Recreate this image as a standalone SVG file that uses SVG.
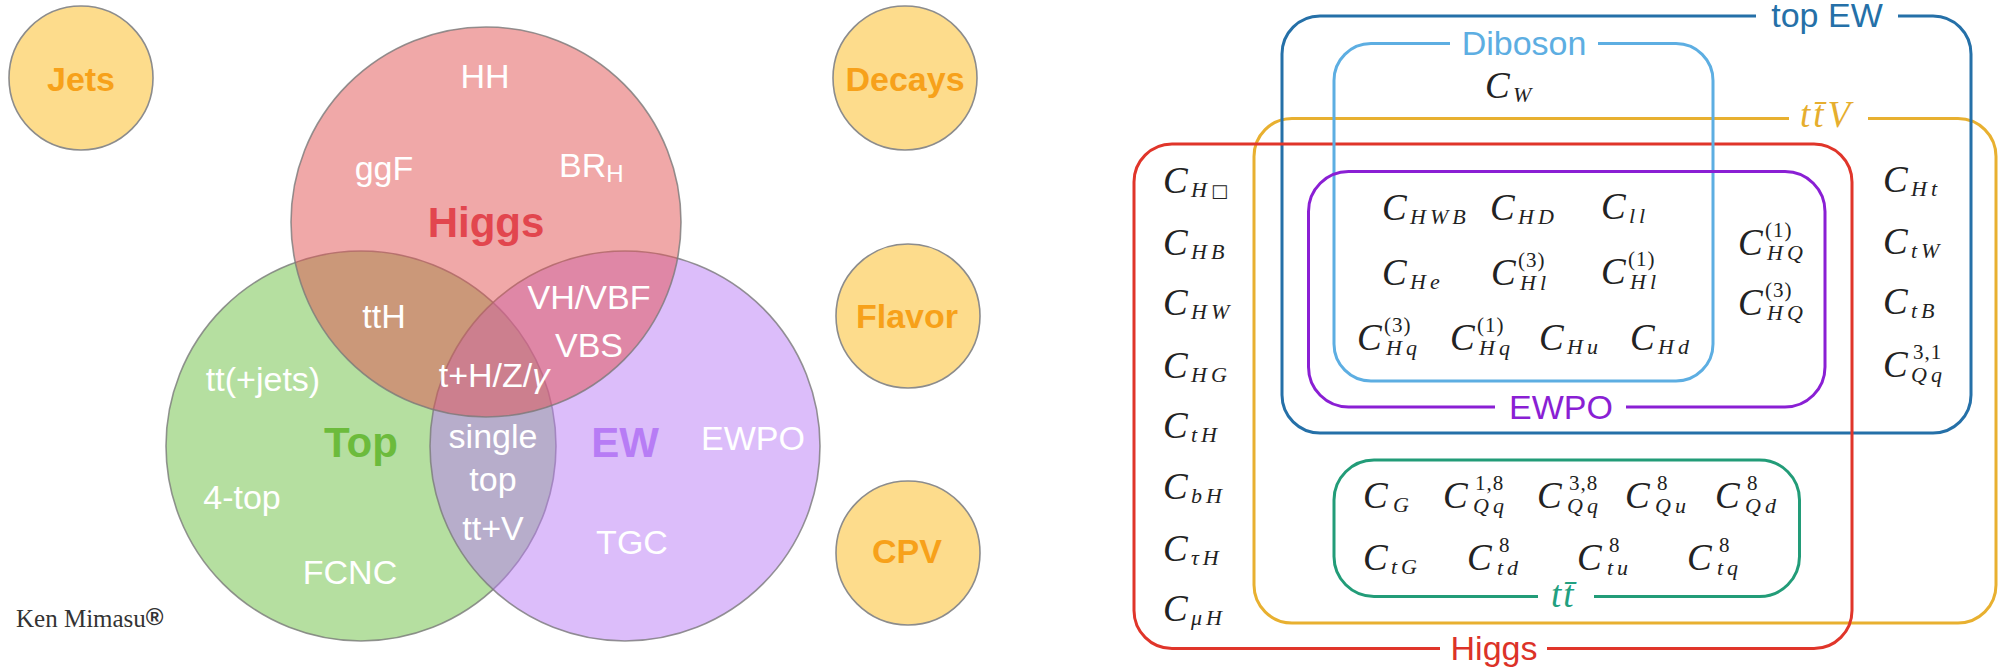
<svg xmlns="http://www.w3.org/2000/svg" width="2002" height="670" viewBox="0 0 2002 670">
<style>
.bg{fill:#ffffff}
.oc{fill:#FDDC8C;stroke:#8C8C8C;stroke-width:1.6}
.ol{font-family:"Liberation Sans",Arial,sans-serif;font-weight:bold;font-size:34px;fill:#F7A11A;text-anchor:middle}
.vc{stroke:#7A7A7A;stroke-width:1.6;stroke-opacity:0.8}
.wl{font-family:"Liberation Sans",Arial,sans-serif;font-size:34px;fill:#ffffff;text-anchor:middle}
.bl{font-family:"Liberation Sans",Arial,sans-serif;font-weight:bold;font-size:42px;text-anchor:middle}
.box{fill:none;stroke-width:3}
.bx{font-family:"Liberation Sans",Arial,sans-serif;font-size:34px;text-anchor:middle}
.c{font-family:"Liberation Serif","DejaVu Serif",serif;font-style:italic;font-size:37px;fill:#222222}
.s{font-size:22px;letter-spacing:4px}
.p{font-size:21px;font-style:normal;letter-spacing:1px}
.m{font-family:"Liberation Serif","DejaVu Serif",serif;font-style:italic;font-size:37px}
</style>
<rect class="bg" x="0" y="0" width="2002" height="670"/>

<!-- LEFT: Venn diagram -->
<g id="jets"><circle class="oc" cx="81" cy="78" r="72"/><text class="ol" x="81" y="91">Jets</text></g>
<g id="decays"><circle class="oc" cx="905" cy="78" r="72"/><text class="ol" x="905" y="91">Decays</text></g>
<g id="flavor"><circle class="oc" cx="908" cy="316" r="72"/><text class="ol" x="907" y="328">Flavor</text></g>
<g id="cpv"><circle class="oc" cx="908" cy="553" r="72"/><text class="ol" x="907" y="563">CPV</text></g>

<g id="top-circle"><circle class="vc" cx="361" cy="446" r="195" fill="#6BBF41" fill-opacity="0.5"/></g>
<g id="ew-circle"><circle class="vc" cx="625" cy="446" r="195" fill="#B97BF5" fill-opacity="0.5"/></g>
<g id="higgs-circle"><circle class="vc" cx="486" cy="222" r="195" fill="#E15151" fill-opacity="0.5"/></g>

<g id="venn-labels">
<text class="wl" x="485" y="88">HH</text>
<text class="wl" x="384" y="180">ggF</text>
<text class="wl" x="559" y="177" style="text-anchor:start">BR<tspan font-size="24" dy="5">H</tspan></text>
<text class="bl" x="486" y="237" fill="#E2464E" font-size="44">Higgs</text>
<text class="wl" x="384" y="328">ttH</text>
<text class="wl" x="589" y="309">VH/VBF</text>
<text class="wl" x="589" y="357">VBS</text>
<text class="wl" x="494" y="387" font-size="30">t+H/Z/<tspan font-style="italic">γ</tspan></text>
<text class="wl" x="263" y="391">tt(+jets)</text>
<text class="bl" x="361" y="457" fill="#6CBB3C">Top</text>
<text class="wl" x="493" y="448">single</text>
<text class="wl" x="493" y="491">top</text>
<text class="bl" x="625" y="457" fill="#B77CF5">EW</text>
<text class="wl" x="753" y="450">EWPO</text>
<text class="wl" x="242" y="509">4-top</text>
<text class="wl" x="493" y="540">tt+V</text>
<text class="wl" x="632" y="554">TGC</text>
<text class="wl" x="350" y="584">FCNC</text>
</g>
<g id="credit"><text x="16" y="627" font-family="'Liberation Serif',serif" font-size="25" fill="#333333">Ken Mimasu<tspan font-family="'Liberation Sans',sans-serif" font-weight="bold" font-size="24" dy="-2">®</tspan></text></g>

<!-- RIGHT: operator sets -->
<g id="box-ttV">
<path class="box" stroke="#E8B030" d="M1868,118.5 H1958 A38,38 0 0 1 1996,156.5 V585 A38,38 0 0 1 1958,623 H1292 A38,38 0 0 1 1254,585 V156.5 A38,38 0 0 1 1292,118.5 H1789"/>
<text class="m" fill="#E6AE2E" x="1800" y="127">t<tspan dx="3">t&#x0304;</tspan><tspan dx="4">V</tspan></text>
</g>
<g id="box-topEW">
<path class="box" stroke="#2570A8" d="M1898,16 H1933 A38,38 0 0 1 1971,54 V395 A38,38 0 0 1 1933,433 H1320 A38,38 0 0 1 1282,395 V54 A38,38 0 0 1 1320,16 H1756"/>
<text class="bx" fill="#2570A8" x="1827" y="27" font-size="33">top EW</text>
</g>
<g id="box-higgs">
<path class="box" stroke="#E0352A" d="M1547,648.5 H1814 A38,38 0 0 0 1852,610.5 V182 A38,38 0 0 0 1814,144 H1172 A38,38 0 0 0 1134,182 V610.5 A38,38 0 0 0 1172,648.5 H1440"/>
<text class="bx" fill="#DC3228" x="1494" y="660">Higgs</text>
</g>
<g id="box-diboson">
<path class="box" stroke="#5DAEE2" d="M1598,43.5 H1676 A37,37 0 0 1 1713,80.5 V344 A37,37 0 0 1 1676,381 H1371 A37,37 0 0 1 1334,344 V80.5 A37,37 0 0 1 1371,43.5 H1450"/>
<text class="bx" fill="#5DAEE2" x="1524" y="55">Diboson</text>
</g>
<g id="box-ewpo">
<path class="box" stroke="#8A1FD4" d="M1626,407 H1785 A40,40 0 0 0 1825,367 V211.5 A40,40 0 0 0 1785,171.5 H1348.5 A40,40 0 0 0 1308.5,211.5 V367 A40,40 0 0 0 1348.5,407 H1495"/>
<text class="bx" fill="#8A1FD4" x="1561" y="419">EWPO</text>
</g>
<g id="box-ttbar">
<path class="box" stroke="#229C78" d="M1594,596.5 H1759.5 A40,40 0 0 0 1799.5,556.5 V500 A40,40 0 0 0 1759.5,460 H1374 A40,40 0 0 0 1334,500 V556.5 A40,40 0 0 0 1374,596.5 H1538"/>
<text class="m" fill="#22A080" x="1551" y="607">t<tspan dx="2">t&#x0304;</tspan></text>
</g>

<g id="coefficients">
<!-- Higgs only column -->
<text class="c" x="1163" y="193">C<tspan class="s" x="1191" y="197">H<tspan font-style="normal" font-family="'DejaVu Sans',sans-serif" font-size="18">□</tspan></tspan></text>
<text class="c" x="1163" y="255">C<tspan class="s" x="1191" y="259">HB</tspan></text>
<text class="c" x="1163" y="315">C<tspan class="s" x="1191" y="319">HW</tspan></text>
<text class="c" x="1163" y="378">C<tspan class="s" x="1191" y="382">HG</tspan></text>
<text class="c" x="1163" y="438">C<tspan class="s" x="1191" y="442">tH</tspan></text>
<text class="c" x="1163" y="499">C<tspan class="s" x="1191" y="503">bH</tspan></text>
<text class="c" x="1163" y="561">C<tspan class="s" x="1191" y="565">τH</tspan></text>
<text class="c" x="1163" y="621">C<tspan class="s" x="1191" y="625">μH</tspan></text>
<!-- Diboson -->
<text class="c" x="1485" y="98">C<tspan class="s" x="1513" y="102">W</tspan></text>
<!-- EWPO -->
<text class="c" x="1382" y="220">C<tspan class="s" x="1410" y="224">HWB</tspan></text>
<text class="c" x="1490" y="220">C<tspan class="s" x="1518" y="224">HD</tspan></text>
<text class="c" x="1601" y="219">C<tspan class="s" x="1629" y="223">ll</tspan></text>
<text class="c" x="1382" y="285">C<tspan class="s" x="1410" y="289">He</tspan></text>
<text class="c" x="1491" y="285">C<tspan class="p" x="1518" y="267">(3)</tspan><tspan class="s" x="1520" y="290">Hl</tspan></text>
<text class="c" x="1601" y="284">C<tspan class="p" x="1628" y="266">(1)</tspan><tspan class="s" x="1630" y="289">Hl</tspan></text>
<text class="c" x="1357" y="350">C<tspan class="p" x="1384" y="332">(3)</tspan><tspan class="s" x="1386" y="355">Hq</tspan></text>
<text class="c" x="1450" y="350">C<tspan class="p" x="1477" y="332">(1)</tspan><tspan class="s" x="1479" y="355">Hq</tspan></text>
<text class="c" x="1539" y="350">C<tspan class="s" x="1567" y="354">Hu</tspan></text>
<text class="c" x="1630" y="350">C<tspan class="s" x="1658" y="354">Hd</tspan></text>
<text class="c" x="1738" y="255">C<tspan class="p" x="1765" y="237">(1)</tspan><tspan class="s" x="1767" y="260">HQ</tspan></text>
<text class="c" x="1738" y="315">C<tspan class="p" x="1765" y="297">(3)</tspan><tspan class="s" x="1767" y="320">HQ</tspan></text>
<!-- top EW -->
<text class="c" x="1883" y="192">C<tspan class="s" x="1911" y="196">Ht</tspan></text>
<text class="c" x="1883" y="254">C<tspan class="s" x="1911" y="258">tW</tspan></text>
<text class="c" x="1883" y="314">C<tspan class="s" x="1911" y="318">tB</tspan></text>
<text class="c" x="1883" y="377">C<tspan class="p" x="1913" y="359">3,1</tspan><tspan class="s" x="1911" y="382">Qq</tspan></text>
<!-- ttbar -->
<text class="c" x="1363" y="508">C<tspan class="s" x="1393" y="512">G</tspan></text>
<text class="c" x="1443" y="508">C<tspan class="p" x="1475" y="490">1,8</tspan><tspan class="s" x="1473" y="513">Qq</tspan></text>
<text class="c" x="1537" y="508">C<tspan class="p" x="1569" y="490">3,8</tspan><tspan class="s" x="1567" y="513">Qq</tspan></text>
<text class="c" x="1625" y="508">C<tspan class="p" x="1657" y="490">8</tspan><tspan class="s" x="1655" y="513">Qu</tspan></text>
<text class="c" x="1715" y="508">C<tspan class="p" x="1747" y="490">8</tspan><tspan class="s" x="1745" y="513">Qd</tspan></text>
<text class="c" x="1363" y="570">C<tspan class="s" x="1391" y="574">tG</tspan></text>
<text class="c" x="1467" y="570">C<tspan class="p" x="1499" y="552">8</tspan><tspan class="s" x="1497" y="575">td</tspan></text>
<text class="c" x="1577" y="570">C<tspan class="p" x="1609" y="552">8</tspan><tspan class="s" x="1607" y="575">tu</tspan></text>
<text class="c" x="1687" y="570">C<tspan class="p" x="1719" y="552">8</tspan><tspan class="s" x="1717" y="575">tq</tspan></text>
</g>
</svg>
